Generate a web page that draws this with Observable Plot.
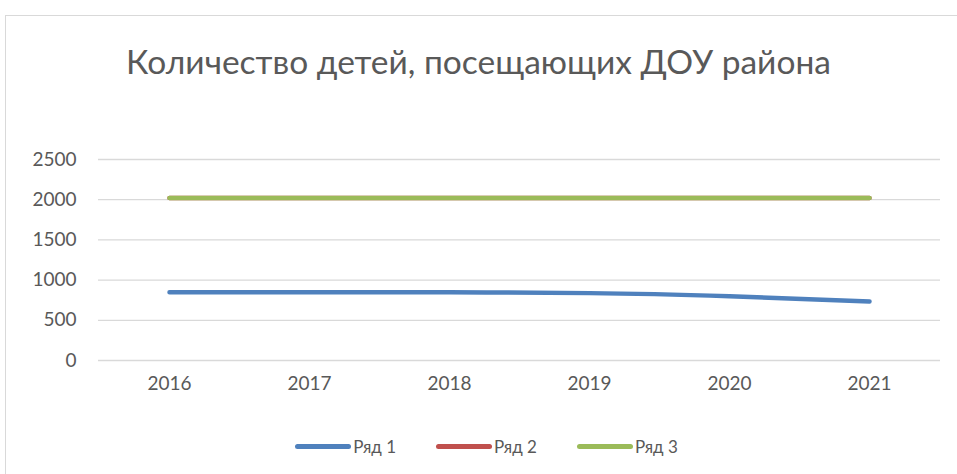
<!DOCTYPE html>
<html>
<head>
<meta charset="utf-8">
<script src="https://cdn.jsdelivr.net/npm/d3@7"></script>
<script src="https://cdn.jsdelivr.net/npm/@observablehq/plot@0.6"></script>
<style>
  html, body { margin: 0; padding: 0; background: #fff; }
  body { width: 957px; height: 474px; overflow: hidden; position: relative; font-family: Lato, "Open Sans", sans-serif; color: #595959; }
  #frame { position: absolute; left: 5px; top: 15px; width: 960px; height: 470px; border-left: 1px solid #d9d9d9; border-top: 1px solid #d9d9d9; box-sizing: border-box; }
  #title { position: absolute; left: 0; top: 0; width: 957px; height: 130px; text-align: center; font-size: 33.5px; line-height: 34px; padding-top: 44px; box-sizing: border-box; }
  #chart { position: absolute; left: 0; top: 130px; }
  #legend { position: absolute; left: 8px; top: 431px; width: 957px; text-align: center; font-size: 17px; line-height: 24px; }
  .item { display: inline-flex; align-items: center; margin: 0 20px 0 20px; }
  .sw { display: inline-block; width: 56px; height: 5px; border-radius: 3px; margin-right: 2px; }
</style>
</head>
<body>
<div id="frame"></div>
<div id="title"></div>
<div id="chart"></div>
<div id="legend"></div>
<script>
const title = "Количество детей, посещающих ДОУ района";
const years = ["2016", "2017", "2018", "2019", "2020", "2021"];
const seriesNames = ["Ряд 1", "Ряд 2", "Ряд 3"];
const series1 = [850, 850, 848, 838, 800, 735];
const series2 = [2020, 2020, 2020, 2020, 2020, 2020];
const series3 = [2020, 2020, 2020, 2020, 2020, 2020];
const yTicks = [0, 500, 1000, 1500, 2000, 2500];
const colors = ["#4f81bd", "#c0504d", "#9bbb59"];

document.getElementById("title").textContent = title;

const allSeries = [series1, series2, series3];
const data = [];
allSeries.forEach((vals, si) => {
  vals.forEach((v, i) => data.push({year: years[i], value: v, series: seriesNames[si]}));
});

const lines = seriesNames.map((name, si) =>
  Plot.line(data.filter(d => d.series === name), {
    x: "year", y: "value", stroke: colors[si], strokeWidth: 4.5,
    strokeLinecap: "round", strokeLinejoin: "round", curve: "monotone-x"
  })
);

const chart = Plot.plot({
  width: 957,
  height: 290,
  marginLeft: 98,
  marginRight: 17,
  marginTop: 29,
  marginBottom: 60,
  style: { fontFamily: "Lato, 'Open Sans', sans-serif", fontSize: "19px", color: "#595959", background: "transparent" },
  x: { type: "point", domain: years, padding: 0.5, label: null },
  y: { domain: [0, 2500], ticks: yTicks, label: null },
  marks: [
    Plot.gridY(yTicks, { stroke: "#d9d9d9", strokeOpacity: 1, strokeWidth: 1.3 }),
    Plot.axisY({ ticks: yTicks, tickFormat: d3.format("d"), tickSize: 0, tickPadding: 22, label: null, fontSize: 19, fill: "#595959" }),
    Plot.axisX({ tickSize: 0, tickPadding: 16, label: null, fontSize: 19, fill: "#595959" }),
    ...lines
  ]
});
document.getElementById("chart").appendChild(chart);

const legend = document.getElementById("legend");
seriesNames.forEach((name, si) => {
  const item = document.createElement("span");
  item.className = "item";
  const sw = document.createElement("span");
  sw.className = "sw";
  sw.style.background = colors[si];
  item.appendChild(sw);
  item.appendChild(document.createTextNode(name));
  legend.appendChild(item);
});
</script>
</body>
</html>
